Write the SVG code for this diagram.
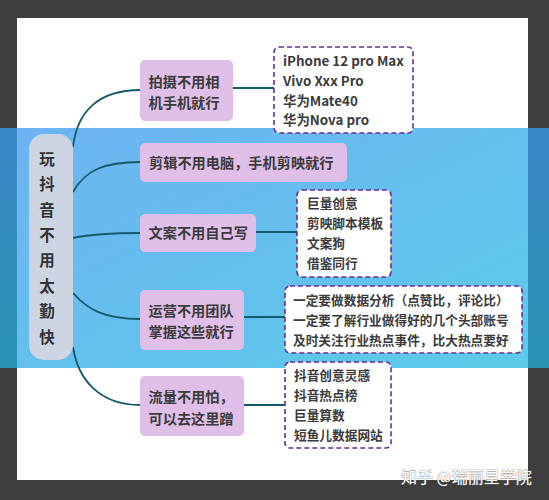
<svg xmlns="http://www.w3.org/2000/svg" width="549" height="500" viewBox="0 0 549 500">
<defs>
<linearGradient id="bandOuter" x1="0" y1="0" x2="0" y2="1">
<stop offset="0" stop-color="#3a86c6"/>
<stop offset="1" stop-color="#2b93b4"/>
</linearGradient>
<linearGradient id="bandInner" x1="0" y1="0" x2="1" y2="1">
<stop offset="0" stop-color="#6db3f2"/>
<stop offset="1" stop-color="#5ccbe9"/>
</linearGradient>
<style>
.branch rect{fill:#dfbfe7;}
.branch text{font-family:"Noto Sans CJK SC","Noto Sans",sans-serif;font-weight:bold;font-size:14.2px;fill:#3b3b3b;}
.leaf rect{fill:#ffffff;stroke:#6b2d93;stroke-width:1.6;stroke-dasharray:5 3;}
.leaf text{font-family:"Noto Sans CJK SC","Noto Sans",sans-serif;font-weight:bold;font-size:12.7px;fill:#3b3b3b;}
.leaf text.lat{font-size:13.4px;}
.conn path{fill:none;stroke:#155a6c;stroke-width:1.8;}
.center text{font-family:"Noto Sans CJK SC",sans-serif;font-weight:bold;font-size:15.5px;fill:#333333;text-anchor:middle;}
.wm{font-family:"Noto Sans CJK SC",sans-serif;font-size:16px;fill:#ffffff;stroke:#7a7a7a;stroke-width:0.6;paint-order:stroke;}
</style>
</defs>
<rect x="0" y="0" width="549" height="500" fill="#3e3e3e"/>
<rect x="17" y="18" width="511" height="462" fill="#ffffff"/>
<rect x="0" y="128" width="549" height="240" fill="url(#bandOuter)"/>
<rect x="17" y="128" width="511" height="240" fill="url(#bandInner)"/>

<g id="connectors" class="conn">
<path d="M73,147 C77,112 98,90 140,90"/>
<path d="M73,192 C85,170 105,162 140,162"/>
<path d="M73,238 C92,234 110,233 140,233"/>
<path d="M73,293 C88,310 105,319 140,319"/>
<path d="M73,347 C78,380 100,405 140,405"/>
<path d="M233,88 L274,88"/>
<path d="M256,232 L297,232"/>
<path d="M244,317 L285,317"/>
<path d="M244,405 L285,405"/>
</g>

<g id="center" class="center">
<rect x="29" y="134" width="44" height="226" rx="15" fill="#cdd5e3"/>
<text x="47" y="164.7">玩</text>
<text x="47" y="190.1">抖</text>
<text x="47" y="215.5">音</text>
<text x="47" y="240.9">不</text>
<text x="47" y="266.3">用</text>
<text x="47" y="291.7">太</text>
<text x="47" y="317.1">勤</text>
<text x="47" y="342.5">快</text>
</g>

<g id="branch1" class="branch">
<rect x="140" y="60" width="93" height="61" rx="5"/>
<text x="148.5" y="87.3">拍摄不用相</text>
<text x="148.5" y="108.3">机手机就行</text>
</g>
<g id="branch2" class="branch">
<rect x="140" y="143" width="207" height="39" rx="5"/>
<text x="149" y="167.8">剪辑不用电脑，手机剪映就行</text>
</g>
<g id="branch3" class="branch">
<rect x="140" y="214" width="116" height="38" rx="5"/>
<text x="148.5" y="238.3">文案不用自己写</text>
</g>
<g id="branch4" class="branch">
<rect x="140" y="290" width="104" height="60" rx="5"/>
<text x="148.5" y="315.8">运营不用团队</text>
<text x="148.5" y="337.3">掌握这些就行</text>
</g>
<g id="branch5" class="branch">
<rect x="140" y="376" width="104" height="60" rx="5"/>
<text x="148.5" y="402.3">流量不用怕，</text>
<text x="148.5" y="424.3">可以去这里蹭</text>
</g>

<g id="leaf1" class="leaf">
<rect x="274" y="47" width="139" height="86" rx="5"/>
<text class="lat" x="283" y="65.7">iPhone 12 pro Max</text>
<text class="lat" x="283" y="85.7">Vivo Xxx Pro</text>
<text class="lat" x="283" y="105.5">华为Mate40</text>
<text class="lat" x="283" y="125">华为Nova pro</text>
</g>
<g id="leaf2" class="leaf">
<rect x="297" y="190" width="94" height="87" rx="5"/>
<text x="307" y="207.7">巨量创意</text>
<text x="307" y="227.7">剪映脚本模板</text>
<text x="307" y="247.7">文案狗</text>
<text x="307" y="267.7">借鉴同行</text>
</g>
<g id="leaf3" class="leaf">
<rect x="285" y="286" width="237" height="67" rx="5"/>
<text x="293" y="304.7">一定要做数据分析（点赞比，评论比）</text>
<text x="293" y="324.7">一定要了解行业做得好的几个头部账号</text>
<text x="293" y="344.7">及时关注行业热点事件，比大热点要好</text>
</g>
<g id="leaf4" class="leaf">
<rect x="285" y="362" width="106" height="86" rx="5"/>
<text x="294" y="380.2">抖音创意灵感</text>
<text x="294" y="400.2">抖音热点榜</text>
<text x="294" y="419.7">巨量算数</text>
<text x="294" y="439.7">短鱼儿数据网站</text>
</g>

<text class="wm" x="401" y="483">知乎 @瑞丽星学院</text>
</svg>
